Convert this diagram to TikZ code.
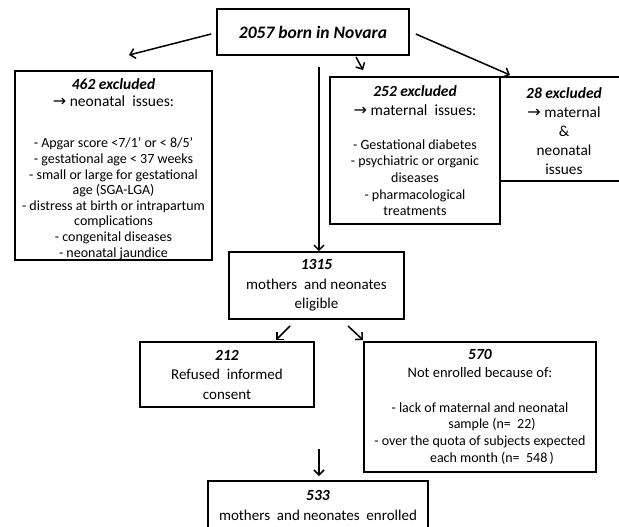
\documentclass[tikz,border=0pt]{standalone}
\usepackage{fontspec}
\setmainfont{Carlito}
\newfontfamily\dejavu{DejaVu Sans}
\usetikzlibrary{arrows.meta}
\newcommand{\hb}[1]{{\fontsize{15.5}{17}\selectfont\bfseries\itshape #1}}
\newcommand{\rarr}{{\dejavu\fontsize{16}{15}\selectfont →}}
\begin{document}
\begin{tikzpicture}[x=1pt,y=-1pt,
  box/.style={draw, line width=1.6pt, inner sep=0pt, align=center},
  arr/.style={line width=1.5pt, -{Straight Barb[length=5pt,width=10pt]}}]
\useasboundingbox (0,0) rectangle (619,527);

% boxes
\node[box, minimum width=192pt, minimum height=46pt, font=\fontsize{17.5}{20}\selectfont\bfseries\itshape] (top) at (313,32) {2057 born in Novara};

\node[box, minimum width=197pt, minimum height=189pt, font=\fontsize{14}{15.6}\selectfont] (n462) at (113.5,165.5)
 {\rule{0pt}{18pt}\hb{462 excluded}\\[1pt]
  {\fontsize{15.5}{17}\selectfont\rarr\ neonatal\ \ issues:}\\[26pt]
  - Apgar score <7/1' or < 8/5'\\
  - gestational age < 37 weeks\\
  - small or large for gestational\\
  age (SGA-LGA)\\
  - distress at birth or intrapartum\\
  complications\\
  - congenital diseases\\
  - neonatal jaundice};

\node[box, minimum width=170pt, minimum height=147pt, font=\fontsize{14}{16.6}\selectfont] (n252) at (415,150.5)
 {\hb{252 excluded}\\[3pt]
  {\fontsize{15.5}{17}\selectfont\rarr\ maternal\ \ issues:}\\[17pt]
  - Gestational diabetes\\
  - psychiatric or organic\\
  diseases\\
  - pharmacological\\
  treatments};

\node[box, minimum width=128pt, minimum height=104pt, font=\fontsize{15.3}{19}\selectfont] (n28) at (564,129)
 {\rule{0pt}{16pt}\hb{28 excluded}\\
  \rarr\ maternal\\
  \&\\
  neonatal\\
  issues};

\node[box, minimum width=175pt, minimum height=67pt, font=\fontsize{15}{19.5}\selectfont] (n1315) at (316.5,285.5)
 {\hb{1315}\\
  mothers\ \ and neonates\\
  eligible};

\node[box, minimum width=174pt, minimum height=65pt, font=\fontsize{15}{19.5}\selectfont] (n212) at (227,374.5)
 {\hb{212}\\
  Refused\ \ informed\\
  consent};

\node[box, minimum width=232pt, minimum height=130pt, font=\fontsize{14}{16.7}\selectfont] (n570) at (480,407)
 {\hb{570}\\[1pt]
  {\fontsize{14.5}{17}\selectfont Not enrolled because of:}\\[18pt]
  - lack of maternal and neonatal\\
  \hspace*{24pt}sample (n=\ \ 22)\\
  - over the quota of subjects expected\\
  \hspace*{24pt}each month (n=\ \ 548\,)};

\node[box, minimum width=220pt, minimum height=64pt, font=\fontsize{15}{20}\selectfont] (n533) at (318,513)
 {\hb{533}\\
  mothers\ \ and neonates\ \ enrolled\rule[-16pt]{0pt}{16pt}};

% connectors
\coordinate (aL) at (129,55);
\coordinate (aR) at (510,75);
\coordinate (sA) at (356,57);
\coordinate (sB) at (363,70);
\coordinate (v1) at (319,67);
\coordinate (e1) at (290,326);
\coordinate (e2) at (276,340);
\coordinate (f1) at (348,326);
\coordinate (f2) at (363,340);
\coordinate (d1) at (319,449);
\coordinate (d2) at (319,476);

\draw[arr] ([xshift=-5pt]top.west |- 0,34) -- (aL);
\draw[arr] ([xshift=6pt]top.east |- 0,34) -- (aR);
\draw[arr] (sA) -- (sB);
\draw[arr] (v1) -- (v1 |- n1315.north);
\draw[arr] (e1) -- (e2);
\draw[arr] (f1) -- (f2);
\draw[arr] (d1) -- (d2);
\end{tikzpicture}
\end{document}
